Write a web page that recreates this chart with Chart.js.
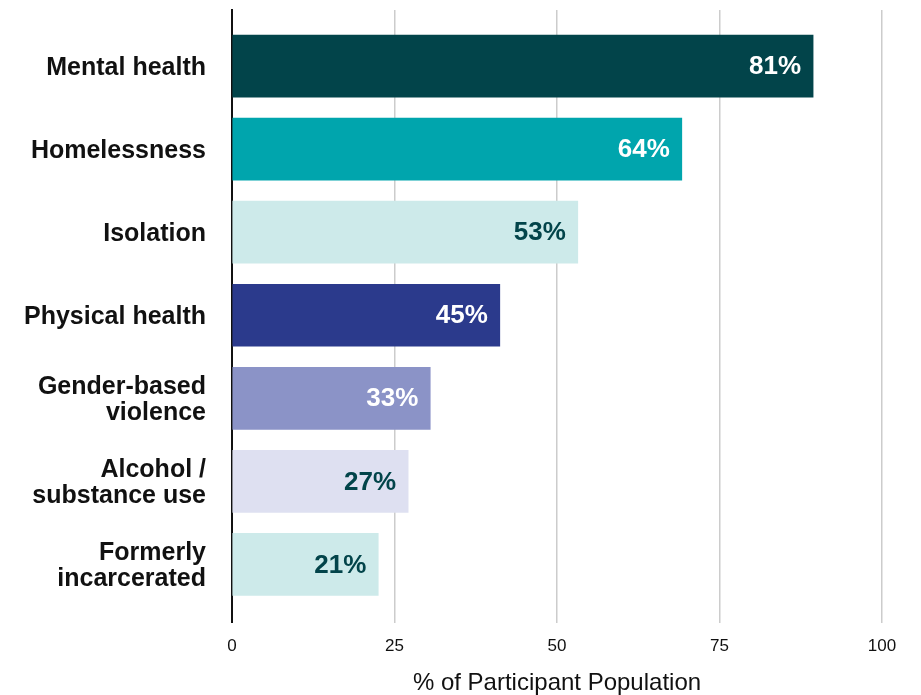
<!DOCTYPE html>
<html>
<head>
<meta charset="utf-8">
<script src="https://cdn.jsdelivr.net/npm/chart.js@4.4.1/dist/chart.umd.min.js"></script>
<style>
  html, body { margin: 0; padding: 0; background: #fff; }
  #wrap { width: 921px; height: 695px; }
</style>
</head>
<body>
<div id="wrap"><canvas id="barChart"></canvas></div>
<script>
// categories, shown top to bottom
const categories = [
  "Mental health",
  ["Homelessness"],
  "Isolation",
  "Physical health",
  ["Gender-based", "violence"],
  ["Alcohol /", "substance use"],
  ["Formerly", "incarcerated"]
];
// bar lengths as drawn against the axis
const barValues = [89.4, 69.2, 53.2, 41.2, 30.5, 27.1, 22.5];
// printed percentage labels
const valueLabels = ["81%", "64%", "53%", "45%", "33%", "27%", "21%"];
const barColors = ["#02444a", "#00a5ad", "#cdeaea", "#2b3a8c", "#8b93c7", "#dee0f1", "#cdeaea"];
const labelColors = ["#ffffff", "#ffffff", "#02444a", "#ffffff", "#ffffff", "#02444a", "#02444a"];
const xTicks = [0, 25, 50, 75, 100];

const FONT = "'Liberation Sans', Arial, sans-serif";

const barLabelPlugin = {
  id: "barLabels",
  afterDatasetsDraw(chart) {
    const ctx = chart.ctx;
    const meta = chart.getDatasetMeta(0);
    ctx.save();
    ctx.font = "bold 26px " + FONT;
    ctx.textAlign = "right";
    ctx.textBaseline = "middle";
    meta.data.forEach((bar, i) => {
      ctx.fillStyle = labelColors[i];
      ctx.fillText(valueLabels[i], bar.x - 12, bar.y + 1);
    });
    ctx.restore();
  }
};

const ctx = document.getElementById("barChart").getContext("2d");
new Chart(ctx, {
  type: "bar",
  data: {
    datasets: [{
      data: barValues.map((v, i) => ({ x: v, y: i })),
      backgroundColor: barColors,
      barThickness: 62,
      borderWidth: 0
    }]
  },
  options: {
    indexAxis: "y",
    responsive: true,
    maintainAspectRatio: false,
    animation: false,
    layout: { padding: { top: 10, right: 39, bottom: 0, left: 0 } },
    plugins: {
      legend: { display: false },
      tooltip: { enabled: false }
    },
    scales: {
      x: {
        type: "linear",
        min: 0,
        max: 100,
        afterBuildTicks: scale => { scale.ticks = xTicks.map(v => ({ value: v })); },
        grid: {
          color: c => c.tick && c.tick.value === 0 ? "rgba(0,0,0,0)" : "#cccccc",
          lineWidth: 1.5,
          drawTicks: false
        },
        border: { display: false },
        ticks: {
          color: "#111",
          padding: 14,
          font: { family: FONT, size: 17 }
        },
        title: {
          display: true,
          text: "% of Participant Population",
          color: "#111",
          padding: { top: 0, bottom: 0 },
          font: { family: FONT, size: 24, lineHeight: 1.0 }
        }
      },
      y: {
        type: "linear",
        reverse: true,
        offset: false,
        min: -0.675,
        max: 6.7,
        afterBuildTicks: scale => { scale.ticks = categories.map((c, i) => ({ value: i })); },
        afterFit: scale => {
          scale.width = 232;
          scale.paddingTop = 0;
          scale.paddingBottom = 0;
        },
        grid: { display: false, drawTicks: false },
        border: { display: true, color: "#111", width: 2 },
        ticks: {
          color: "#111",
          padding: 26,
          labelOffset: 2,
          autoSkip: false,
          callback: v => categories[v],
          font: { family: FONT, size: 25, weight: "bold", lineHeight: 1.05 }
        }
      }
    }
  },
  plugins: [barLabelPlugin]
});
</script>
</body>
</html>
